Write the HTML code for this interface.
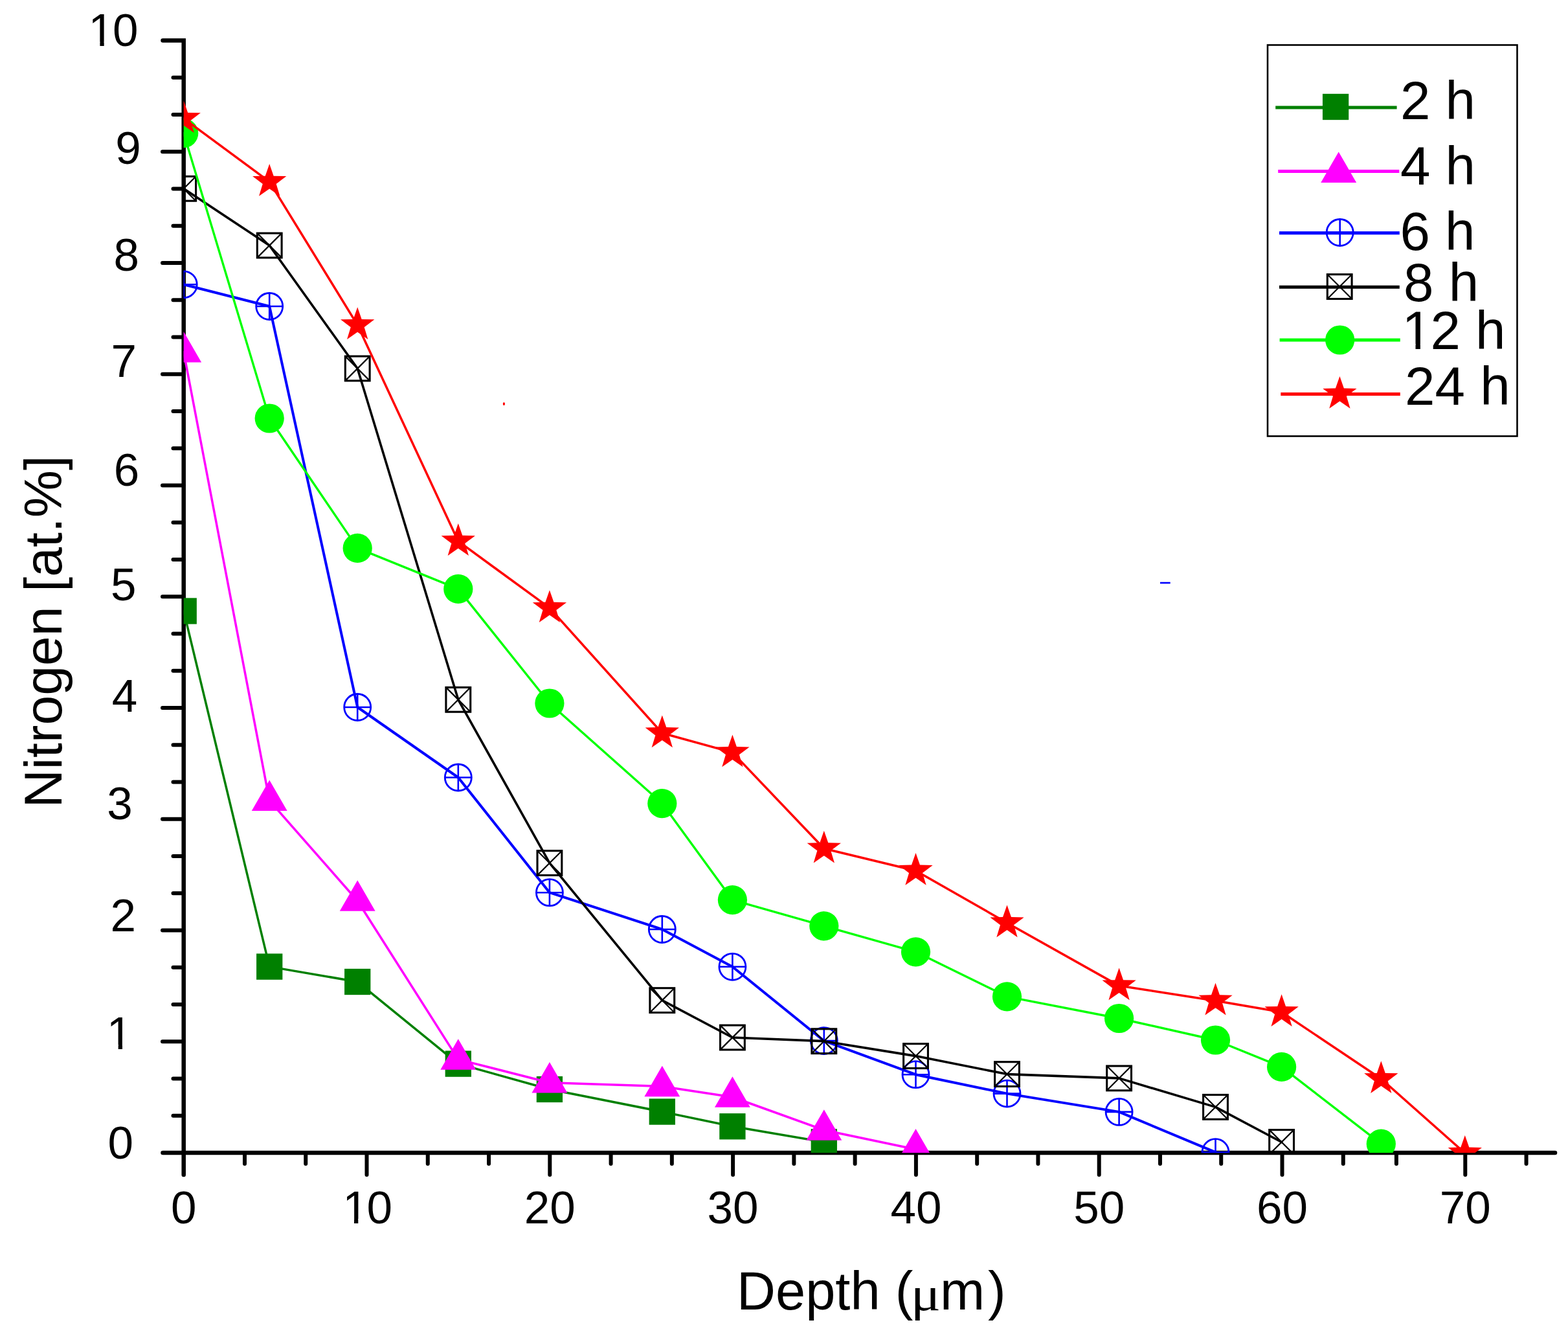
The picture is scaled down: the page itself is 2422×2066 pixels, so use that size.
<!DOCTYPE html><html><head><meta charset="utf-8"><title>Nitrogen depth profile</title>
<style>html,body{margin:0;padding:0;background:#fff;}body{width:2422px;height:2066px;overflow:hidden;}svg{display:block;}text{font-family:"Liberation Sans",Arial,sans-serif;fill:#000;}</style></head><body>
<svg width="2422" height="2066" viewBox="0 0 2422 2066">
<rect width="2422" height="2066" fill="#fff"/>
<defs><clipPath id="pc"><rect x="283.7" y="0" width="2138.3" height="1779.9"/></clipPath></defs>
<path d="M251.5 62.5H283.7V1814" fill="none" stroke="#000" stroke-width="6.5" stroke-linejoin="miter" stroke-linecap="round"/>
<path d="M251.5 1779.9H2402" fill="none" stroke="#000" stroke-width="6.5" stroke-linecap="round"/>
<path d="M251 1608.16H283.7M251 1436.42H283.7M251 1264.68H283.7M251 1092.94H283.7M251 921.2H283.7M251 749.46H283.7M251 577.72H283.7M251 405.98H283.7M251 234.24H283.7M267.5 1722.65H283.7M267.5 1665.41H283.7M267.5 1550.91H283.7M267.5 1493.67H283.7M267.5 1379.17H283.7M267.5 1321.93H283.7M267.5 1207.43H283.7M267.5 1150.19H283.7M267.5 1035.69H283.7M267.5 978.45H283.7M267.5 863.95H283.7M267.5 806.71H283.7M267.5 692.21H283.7M267.5 634.97H283.7M267.5 520.47H283.7M267.5 463.23H283.7M267.5 348.73H283.7M267.5 291.49H283.7M267.5 176.99H283.7M267.5 119.75H283.7M566.5 1779.9V1814M849.3 1779.9V1814M1132.1 1779.9V1814M1414.9 1779.9V1814M1697.7 1779.9V1814M1980.5 1779.9V1814M2263.3 1779.9V1814M377.97 1779.9V1797M472.23 1779.9V1797M660.77 1779.9V1797M755.03 1779.9V1797M943.57 1779.9V1797M1037.83 1779.9V1797M1226.37 1779.9V1797M1320.63 1779.9V1797M1509.17 1779.9V1797M1603.43 1779.9V1797M1791.97 1779.9V1797M1886.23 1779.9V1797M2074.77 1779.9V1797M2156.9 1779.9V1797M2357.57 1779.9V1797M2451.83 1779.9V1797" fill="none" stroke="#000" stroke-width="6.0" stroke-linecap="round"/>
<text x="263.95" y="1888.5" font-size="71">0</text>
<text x="529.14 566.5" y="1888.5" font-size="71" clip-path="url(#c1_0)">10</text>
<text x="809.81" y="1888.5" font-size="71">20</text>
<text x="1092.61" y="1888.5" font-size="71">30</text>
<text x="1375.41" y="1888.5" font-size="71">40</text>
<text x="1658.21" y="1888.5" font-size="71">50</text>
<text x="1941.01" y="1888.5" font-size="71">60</text>
<text x="2223.81" y="1888.5" font-size="71">70</text>
<text x="136.55 173.91" y="71.3" font-size="71" clip-path="url(#c1_1)">10</text>
<text x="178.31" y="252.7" font-size="71">9</text>
<text x="175.61" y="418.2" font-size="71">8</text>
<text x="171.61" y="581.8" font-size="71">7</text>
<text x="175.71" y="749.8" font-size="71">6</text>
<text x="171.01" y="927.3" font-size="71">5</text>
<text x="172.71" y="1099.2" font-size="71">4</text>
<text x="165.21" y="1264.5" font-size="71">3</text>
<text x="170.61" y="1438.1" font-size="71">2</text>
<text x="164.84" y="1619.6" font-size="71" clip-path="url(#c1_2)">1</text>
<text x="166.51" y="1788.9" font-size="71">0</text>
<text font-size="82.3" transform="translate(94.9 1247.6) rotate(-90)">Nitrogen [at.%]</text>
<text x="1138.1" y="2022.2" font-size="83">Depth (</text>
<text font-size="75" transform="translate(1406.8 2022.6) scale(1.15 1)" style="font-family:'Liberation Serif',serif">&#956;</text>
<text x="1452.1" y="2022.2" font-size="83">m</text>
<text x="1526" y="2022.2" font-size="83">)</text>
<g clip-path="url(#pc)">
<path d="M283.7 943.5L416.2 1492.6L552.2 1516L707.8 1642.6L848.9 1682L1022.8 1716.6L1131.4 1739.3L1272.8 1763.3" fill="none" stroke="#008000" stroke-width="3.5" stroke-linejoin="round" stroke-linecap="round"/>
<rect x="263.55" y="923.35" width="40.3" height="40.3" fill="#008000"/>
<rect x="396.05" y="1472.45" width="40.3" height="40.3" fill="#008000"/>
<rect x="532.05" y="1495.85" width="40.3" height="40.3" fill="#008000"/>
<rect x="687.65" y="1622.45" width="40.3" height="40.3" fill="#008000"/>
<rect x="828.75" y="1661.85" width="40.3" height="40.3" fill="#008000"/>
<rect x="1002.65" y="1696.45" width="40.3" height="40.3" fill="#008000"/>
<rect x="1111.25" y="1719.15" width="40.3" height="40.3" fill="#008000"/>
<rect x="1252.65" y="1743.15" width="40.3" height="40.3" fill="#008000"/>
<path d="M283.7 543.7L416.2 1236.2L552.2 1391L707.8 1635.9L848.9 1671.7L1022.8 1677.4L1131.4 1694L1272.8 1745L1414.5 1774.7" fill="none" stroke="#FF00FF" stroke-width="3.5" stroke-linejoin="round" stroke-linecap="round"/>
<polygon points="283.7,512 311.15,559.55 256.25,559.55" fill="#FF00FF"/>
<polygon points="416.2,1204.5 443.65,1252.05 388.75,1252.05" fill="#FF00FF"/>
<polygon points="552.2,1359.3 579.65,1406.85 524.75,1406.85" fill="#FF00FF"/>
<polygon points="707.8,1604.2 735.25,1651.75 680.35,1651.75" fill="#FF00FF"/>
<polygon points="848.9,1640 876.35,1687.55 821.45,1687.55" fill="#FF00FF"/>
<polygon points="1022.8,1645.7 1050.25,1693.25 995.35,1693.25" fill="#FF00FF"/>
<polygon points="1131.4,1662.3 1158.85,1709.85 1103.95,1709.85" fill="#FF00FF"/>
<polygon points="1272.8,1713.3 1300.25,1760.85 1245.35,1760.85" fill="#FF00FF"/>
<polygon points="1414.5,1743 1441.95,1790.55 1387.05,1790.55" fill="#FF00FF"/>
<path d="M283.7 439.3L416.2 473L552.2 1092L707.8 1200.5L848.9 1378.2L1022.8 1435L1131.4 1492.8L1272.8 1607.1L1414.5 1659.2L1555.5 1688.6L1728.6 1716.9L1877.5 1779.2" fill="none" stroke="#0000FF" stroke-width="4.0" stroke-linejoin="round" stroke-linecap="round"/>
<circle cx="283.7" cy="439.3" r="20.5" fill="none" stroke="#0000FF" stroke-width="2.8"/><path d="M263.2 439.3H304.2M283.7 418.8V459.8" stroke="#0000FF" stroke-width="2.6" fill="none"/>
<circle cx="416.2" cy="473" r="20.5" fill="none" stroke="#0000FF" stroke-width="2.8"/><path d="M395.7 473H436.7M416.2 452.5V493.5" stroke="#0000FF" stroke-width="2.6" fill="none"/>
<circle cx="552.2" cy="1092" r="20.5" fill="none" stroke="#0000FF" stroke-width="2.8"/><path d="M531.7 1092H572.7M552.2 1071.5V1112.5" stroke="#0000FF" stroke-width="2.6" fill="none"/>
<circle cx="707.8" cy="1200.5" r="20.5" fill="none" stroke="#0000FF" stroke-width="2.8"/><path d="M687.3 1200.5H728.3M707.8 1180V1221" stroke="#0000FF" stroke-width="2.6" fill="none"/>
<circle cx="848.9" cy="1378.2" r="20.5" fill="none" stroke="#0000FF" stroke-width="2.8"/><path d="M828.4 1378.2H869.4M848.9 1357.7V1398.7" stroke="#0000FF" stroke-width="2.6" fill="none"/>
<circle cx="1022.8" cy="1435" r="20.5" fill="none" stroke="#0000FF" stroke-width="2.8"/><path d="M1002.3 1435H1043.3M1022.8 1414.5V1455.5" stroke="#0000FF" stroke-width="2.6" fill="none"/>
<circle cx="1131.4" cy="1492.8" r="20.5" fill="none" stroke="#0000FF" stroke-width="2.8"/><path d="M1110.9 1492.8H1151.9M1131.4 1472.3V1513.3" stroke="#0000FF" stroke-width="2.6" fill="none"/>
<circle cx="1272.8" cy="1607.1" r="20.5" fill="none" stroke="#0000FF" stroke-width="2.8"/><path d="M1252.3 1607.1H1293.3M1272.8 1586.6V1627.6" stroke="#0000FF" stroke-width="2.6" fill="none"/>
<circle cx="1414.5" cy="1659.2" r="20.5" fill="none" stroke="#0000FF" stroke-width="2.8"/><path d="M1394 1659.2H1435M1414.5 1638.7V1679.7" stroke="#0000FF" stroke-width="2.6" fill="none"/>
<circle cx="1555.5" cy="1688.6" r="20.5" fill="none" stroke="#0000FF" stroke-width="2.8"/><path d="M1535 1688.6H1576M1555.5 1668.1V1709.1" stroke="#0000FF" stroke-width="2.6" fill="none"/>
<circle cx="1728.6" cy="1716.9" r="20.5" fill="none" stroke="#0000FF" stroke-width="2.8"/><path d="M1708.1 1716.9H1749.1M1728.6 1696.4V1737.4" stroke="#0000FF" stroke-width="2.6" fill="none"/>
<circle cx="1877.5" cy="1779.2" r="20.5" fill="none" stroke="#0000FF" stroke-width="2.8"/><path d="M1857 1779.2H1898M1877.5 1758.7V1799.7" stroke="#0000FF" stroke-width="2.6" fill="none"/>
<path d="M283.7 291.3L416.2 379L552.2 569L707.8 1080.3L848.9 1332.6L1022.8 1544.6L1131.4 1602L1272.8 1607.7L1414.5 1630.6L1555.5 1658.6L1728.6 1664.9L1877.5 1709.4L1979.6 1763.5" fill="none" stroke="#000000" stroke-width="3.6" stroke-linejoin="round" stroke-linecap="round"/>
<rect x="264.8" y="272.4" width="37.8" height="37.8" fill="none" stroke="#000000" stroke-width="3.1"/><path d="M264.8 272.4L302.6 310.2M302.6 272.4L264.8 310.2" stroke="#000000" stroke-width="2.2" fill="none"/>
<rect x="397.3" y="360.1" width="37.8" height="37.8" fill="none" stroke="#000000" stroke-width="3.1"/><path d="M397.3 360.1L435.1 397.9M435.1 360.1L397.3 397.9" stroke="#000000" stroke-width="2.2" fill="none"/>
<rect x="533.3" y="550.1" width="37.8" height="37.8" fill="none" stroke="#000000" stroke-width="3.1"/><path d="M533.3 550.1L571.1 587.9M571.1 550.1L533.3 587.9" stroke="#000000" stroke-width="2.2" fill="none"/>
<rect x="688.9" y="1061.4" width="37.8" height="37.8" fill="none" stroke="#000000" stroke-width="3.1"/><path d="M688.9 1061.4L726.7 1099.2M726.7 1061.4L688.9 1099.2" stroke="#000000" stroke-width="2.2" fill="none"/>
<rect x="830" y="1313.7" width="37.8" height="37.8" fill="none" stroke="#000000" stroke-width="3.1"/><path d="M830 1313.7L867.8 1351.5M867.8 1313.7L830 1351.5" stroke="#000000" stroke-width="2.2" fill="none"/>
<rect x="1003.9" y="1525.7" width="37.8" height="37.8" fill="none" stroke="#000000" stroke-width="3.1"/><path d="M1003.9 1525.7L1041.7 1563.5M1041.7 1525.7L1003.9 1563.5" stroke="#000000" stroke-width="2.2" fill="none"/>
<rect x="1112.5" y="1583.1" width="37.8" height="37.8" fill="none" stroke="#000000" stroke-width="3.1"/><path d="M1112.5 1583.1L1150.3 1620.9M1150.3 1583.1L1112.5 1620.9" stroke="#000000" stroke-width="2.2" fill="none"/>
<rect x="1253.9" y="1588.8" width="37.8" height="37.8" fill="none" stroke="#000000" stroke-width="3.1"/><path d="M1253.9 1588.8L1291.7 1626.6M1291.7 1588.8L1253.9 1626.6" stroke="#000000" stroke-width="2.2" fill="none"/>
<rect x="1395.6" y="1611.7" width="37.8" height="37.8" fill="none" stroke="#000000" stroke-width="3.1"/><path d="M1395.6 1611.7L1433.4 1649.5M1433.4 1611.7L1395.6 1649.5" stroke="#000000" stroke-width="2.2" fill="none"/>
<rect x="1536.6" y="1639.7" width="37.8" height="37.8" fill="none" stroke="#000000" stroke-width="3.1"/><path d="M1536.6 1639.7L1574.4 1677.5M1574.4 1639.7L1536.6 1677.5" stroke="#000000" stroke-width="2.2" fill="none"/>
<rect x="1709.7" y="1646" width="37.8" height="37.8" fill="none" stroke="#000000" stroke-width="3.1"/><path d="M1709.7 1646L1747.5 1683.8M1747.5 1646L1709.7 1683.8" stroke="#000000" stroke-width="2.2" fill="none"/>
<rect x="1858.6" y="1690.5" width="37.8" height="37.8" fill="none" stroke="#000000" stroke-width="3.1"/><path d="M1858.6 1690.5L1896.4 1728.3M1896.4 1690.5L1858.6 1728.3" stroke="#000000" stroke-width="2.2" fill="none"/>
<rect x="1960.7" y="1744.6" width="37.8" height="37.8" fill="none" stroke="#000000" stroke-width="3.1"/><path d="M1960.7 1744.6L1998.5 1782.4M1998.5 1744.6L1960.7 1782.4" stroke="#000000" stroke-width="2.2" fill="none"/>
<path d="M283.7 205.7L416.2 646L552.2 846.4L707.8 909.4L848.9 1086L1022.8 1240.6L1131.4 1389.6L1272.8 1429.8L1414.5 1469.8L1555.5 1538.8L1728.6 1572.5L1877.5 1606L1979.6 1647.4L2133.3 1766.2" fill="none" stroke="#00FF00" stroke-width="3.4" stroke-linejoin="round" stroke-linecap="round"/>
<circle cx="283.7" cy="205.7" r="22.6" fill="#00FF00"/>
<circle cx="416.2" cy="646" r="22.6" fill="#00FF00"/>
<circle cx="552.2" cy="846.4" r="22.6" fill="#00FF00"/>
<circle cx="707.8" cy="909.4" r="22.6" fill="#00FF00"/>
<circle cx="848.9" cy="1086" r="22.6" fill="#00FF00"/>
<circle cx="1022.8" cy="1240.6" r="22.6" fill="#00FF00"/>
<circle cx="1131.4" cy="1389.6" r="22.6" fill="#00FF00"/>
<circle cx="1272.8" cy="1429.8" r="22.6" fill="#00FF00"/>
<circle cx="1414.5" cy="1469.8" r="22.6" fill="#00FF00"/>
<circle cx="1555.5" cy="1538.8" r="22.6" fill="#00FF00"/>
<circle cx="1728.6" cy="1572.5" r="22.6" fill="#00FF00"/>
<circle cx="1877.5" cy="1606" r="22.6" fill="#00FF00"/>
<circle cx="1979.6" cy="1647.4" r="22.6" fill="#00FF00"/>
<circle cx="2133.3" cy="1766.2" r="22.6" fill="#00FF00"/>
<path d="M283.7 182.8L416.2 280.6L552.2 501.8L707.8 835.7L848.9 938.7L1022.8 1132L1131.4 1161.9L1272.8 1310.2L1414.5 1344.5L1555.5 1424.9L1728.6 1522.1L1877.5 1545.2L1979.6 1562.8L2133.3 1665.8L2262.8 1780.5" fill="none" stroke="#FF0000" stroke-width="3.5" stroke-linejoin="round" stroke-linecap="round"/>
<polygon points="283.7,155.3 290.17,173.9 309.85,174.3 294.16,186.2 299.86,205.05 283.7,193.8 267.54,205.05 273.24,186.2 257.55,174.3 277.23,173.9" fill="#FF0000"/>
<polygon points="416.2,253.1 422.67,271.7 442.35,272.1 426.66,284 432.36,302.85 416.2,291.6 400.04,302.85 405.74,284 390.05,272.1 409.73,271.7" fill="#FF0000"/>
<polygon points="552.2,474.3 558.67,492.9 578.35,493.3 562.66,505.2 568.36,524.05 552.2,512.8 536.04,524.05 541.74,505.2 526.05,493.3 545.73,492.9" fill="#FF0000"/>
<polygon points="707.8,808.2 714.27,826.8 733.95,827.2 718.26,839.1 723.96,857.95 707.8,846.7 691.64,857.95 697.34,839.1 681.65,827.2 701.33,826.8" fill="#FF0000"/>
<polygon points="848.9,911.2 855.37,929.8 875.05,930.2 859.36,942.1 865.06,960.95 848.9,949.7 832.74,960.95 838.44,942.1 822.75,930.2 842.43,929.8" fill="#FF0000"/>
<polygon points="1022.8,1104.5 1029.27,1123.1 1048.95,1123.5 1033.26,1135.4 1038.96,1154.25 1022.8,1143 1006.64,1154.25 1012.34,1135.4 996.65,1123.5 1016.33,1123.1" fill="#FF0000"/>
<polygon points="1131.4,1134.4 1137.87,1153 1157.55,1153.4 1141.86,1165.3 1147.56,1184.15 1131.4,1172.9 1115.24,1184.15 1120.94,1165.3 1105.25,1153.4 1124.93,1153" fill="#FF0000"/>
<polygon points="1272.8,1282.7 1279.27,1301.3 1298.95,1301.7 1283.26,1313.6 1288.96,1332.45 1272.8,1321.2 1256.64,1332.45 1262.34,1313.6 1246.65,1301.7 1266.33,1301.3" fill="#FF0000"/>
<polygon points="1414.5,1317 1420.97,1335.6 1440.65,1336 1424.96,1347.9 1430.66,1366.75 1414.5,1355.5 1398.34,1366.75 1404.04,1347.9 1388.35,1336 1408.03,1335.6" fill="#FF0000"/>
<polygon points="1555.5,1397.4 1561.97,1416 1581.65,1416.4 1565.96,1428.3 1571.66,1447.15 1555.5,1435.9 1539.34,1447.15 1545.04,1428.3 1529.35,1416.4 1549.03,1416" fill="#FF0000"/>
<polygon points="1728.6,1494.6 1735.07,1513.2 1754.75,1513.6 1739.06,1525.5 1744.76,1544.35 1728.6,1533.1 1712.44,1544.35 1718.14,1525.5 1702.45,1513.6 1722.13,1513.2" fill="#FF0000"/>
<polygon points="1877.5,1517.7 1883.97,1536.3 1903.65,1536.7 1887.96,1548.6 1893.66,1567.45 1877.5,1556.2 1861.34,1567.45 1867.04,1548.6 1851.35,1536.7 1871.03,1536.3" fill="#FF0000"/>
<polygon points="1979.6,1535.3 1986.07,1553.9 2005.75,1554.3 1990.06,1566.2 1995.76,1585.05 1979.6,1573.8 1963.44,1585.05 1969.14,1566.2 1953.45,1554.3 1973.13,1553.9" fill="#FF0000"/>
<polygon points="2133.3,1638.3 2139.77,1656.9 2159.45,1657.3 2143.76,1669.2 2149.46,1688.05 2133.3,1676.8 2117.14,1688.05 2122.84,1669.2 2107.15,1657.3 2126.83,1656.9" fill="#FF0000"/>
<polygon points="2262.8,1753 2269.27,1771.6 2288.95,1772 2273.26,1783.9 2278.96,1802.75 2262.8,1791.5 2246.64,1802.75 2252.34,1783.9 2236.65,1772 2256.33,1771.6" fill="#FF0000"/>
</g>
<ellipse cx="778.4" cy="623.7" rx="1.6" ry="2.4" fill="#FF0000"/>
<path d="M1792 900H1807.7" stroke="#0000FF" stroke-width="2.6"/>
<rect x="1958" y="69.5" width="385.5" height="604" fill="none" stroke="#000" stroke-width="2.6"/>
<path d="M1970.2 165.9H2157.6" stroke="#008000" stroke-width="5" fill="none"/>
<rect x="2042.95" y="144.85" width="40.3" height="40.3" fill="#008000"/>
<text x="2162.9" y="184.1" font-size="83.5">2 h</text>
<path d="M1974.2 264.6H2161.3" stroke="#FF00FF" stroke-width="5" fill="none"/>
<polygon points="2067.7,234.4 2095.15,281.95 2040.25,281.95" fill="#FF00FF"/>
<text x="2162.9" y="285.4" font-size="83.5">4 h</text>
<path d="M1976 359.8H2161.8" stroke="#0000FF" stroke-width="5" fill="none"/>
<circle cx="2069.7" cy="359" r="20.5" fill="none" stroke="#0000FF" stroke-width="2.8"/><path d="M2049.2 359H2090.2M2069.7 338.5V379.5" stroke="#0000FF" stroke-width="2.6" fill="none"/>
<text x="2162.4" y="385.6" font-size="83.5">6 h</text>
<path d="M1976 443.2H2161.8" stroke="#000000" stroke-width="5" fill="none"/>
<rect x="2050.3" y="423.7" width="37.8" height="37.8" fill="none" stroke="#000000" stroke-width="3.1"/><path d="M2050.3 423.7L2088.1 461.5M2088.1 423.7L2050.3 461.5" stroke="#000000" stroke-width="2.2" fill="none"/>
<text x="2168" y="465" font-size="83.5">8 h</text>
<path d="M1976.6 525H2162.8" stroke="#00FF00" stroke-width="5" fill="none"/>
<circle cx="2069.7" cy="525" r="22.6" fill="#00FF00"/>
<text x="2165.51 2209.44 2255.89 2279.12" y="538.8" font-size="83.5" clip-path="url(#c1_3)">12 h</text>
<path d="M1978.3 608.5H2162.8" stroke="#FF0000" stroke-width="5" fill="none"/>
<polygon points="2069.4,580.9 2075.87,599.5 2095.55,599.9 2079.86,611.8 2085.56,630.65 2069.4,619.4 2053.24,630.65 2058.94,611.8 2043.25,599.9 2062.93,599.5" fill="#FF0000"/>
<text x="2170.1" y="624.7" font-size="83.5">24 h</text>
<defs><clipPath id="c1_0"><rect x="477.01" y="1746.5" width="178.98" height="135.4"/><rect x="547" y="1880.2" width="6.28" height="10.3"/><rect x="566.5" y="1746.5" width="39.49" height="213"/></clipPath><clipPath id="c1_1"><rect x="84.42" y="-70.7" width="178.98" height="135.4"/><rect x="154.41" y="63" width="6.28" height="10.3"/><rect x="173.91" y="-70.7" width="39.49" height="213"/></clipPath><clipPath id="c1_2"><rect x="112.71" y="1477.6" width="139.49" height="135.4"/><rect x="182.7" y="1611.3" width="6.28" height="10.3"/></clipPath><clipPath id="c1_3"><rect x="2113" y="371.8" width="262.57" height="159.46"/><rect x="2186.51" y="529.56" width="7.39" height="11.24"/><rect x="2209.44" y="371.8" width="46.44" height="250.5"/><rect x="2255.89" y="371.8" width="23.24" height="250.5"/><rect x="2279.12" y="371.8" width="46.44" height="250.5"/></clipPath></defs>
</svg></body></html>
